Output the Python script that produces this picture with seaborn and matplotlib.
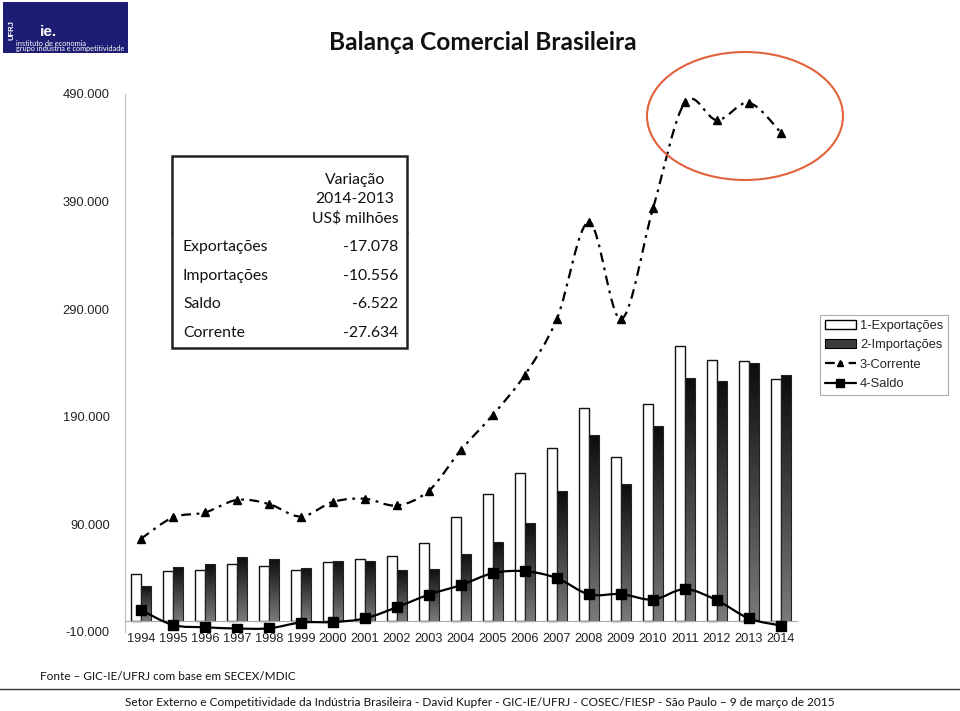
import numpy as np
import pandas as pd
import matplotlib.pyplot as plt
import seaborn as sns
from matplotlib.path import Path
from matplotlib.patches import PathPatch, Rectangle, Ellipse, Patch
from matplotlib.lines import Line2D

# Dados (US$ milhões)
anos = [str(a) for a in range(1994, 2015)]
exportacoes = [43545, 46506, 47747, 52994, 51140, 48011, 55086, 58223, 60362, 73084, 96475,
               118308, 137807, 160649, 197942, 152995, 201915, 256040, 242578, 242179, 225101]
importacoes = [33079, 49972, 53346, 59747, 57763, 49302, 55851, 55602, 47243, 48326, 62836,
               73600, 91351, 120617, 172985, 127722, 181768, 226247, 223183, 239631, 229075]
corrente = [76624, 96478, 101093, 112741, 108903, 97313, 110937, 113825, 107605, 121410, 159311,
            191908, 229158, 281266, 370927, 280717, 383683, 482287, 465761, 481810, 454176]
saldo = [10466, -3466, -5599, -6753, -6575, -1199, -731, 2650, 13121, 24794, 33641,
         44703, 46457, 40032, 24958, 25272, 20147, 29793, 19395, 2548, -3974]

tabela_rotulos = ['Exportações', 'Importações', 'Saldo', 'Corrente']
tabela_valores = ['-17.078', '-10.556', '-6.522', '-27.634']

df = pd.DataFrame({'ano': anos * 2,
                   'valor': exportacoes + importacoes,
                   'serie': ['1-Exportações'] * len(anos) + ['2-Importações'] * len(anos)})

plt.rcParams['lines.scale_dashes'] = False
sns.set_style('white')
plt.rcParams['font.family'] = ['Liberation Sans', 'DejaVu Sans']

fig = plt.figure(figsize=(9.6, 7.11), dpi=100)
ax = fig.add_axes([125 / 960, 1 - 632 / 711, 672 / 960, 538 / 711])

sns.barplot(data=df, x='ano', y='valor', hue='serie', width=0.62, gap=0,
            palette=['white', '#555555'], legend=False, ax=ax, saturation=1)

# barras de exportações: brancas com contorno preto
for bar in ax.containers[0]:
    bar.set_facecolor('white')
    bar.set_edgecolor('#111111')
    bar.set_linewidth(1)

# barras de importações: degradê preto -> cinza
grad = np.linspace(0, 1, 100).reshape(-1, 1)
cmap = plt.matplotlib.colors.LinearSegmentedColormap.from_list('g', ['#0d0d0d', '#7a7a7a'])
for bar in ax.containers[1]:
    bar.set_facecolor('none')
    bar.set_edgecolor('#222222')
    bar.set_linewidth(0.8)
    x0, w, h = bar.get_x(), bar.get_width(), bar.get_height()
    im = ax.imshow(grad, extent=[x0, x0 + w, 0, h], origin='upper', aspect='auto',
                   cmap=cmap, zorder=1.5)
    im.set_clip_path(bar)
    bar.set_zorder(2)


def curva_suave(xs, ys):
    verts = [(xs[0], ys[0])]
    codes = [Path.MOVETO]
    n = len(xs)
    for i in range(n - 1):
        p0 = (xs[i - 1], ys[i - 1]) if i > 0 else (xs[i], ys[i])
        p3 = (xs[i + 2], ys[i + 2]) if i + 2 < n else (xs[i + 1], ys[i + 1])
        c1 = (xs[i] + (xs[i + 1] - p0[0]) / 6, ys[i] + (ys[i + 1] - p0[1]) / 6)
        c2 = (xs[i + 1] - (p3[0] - xs[i]) / 6, ys[i + 1] - (p3[1] - ys[i]) / 6)
        verts += [c1, c2, (xs[i + 1], ys[i + 1])]
        codes += [Path.CURVE4] * 3
    return Path(verts, codes)


xs = np.arange(len(anos))
ax.add_patch(PathPatch(curva_suave(xs, corrente), facecolor='none', edgecolor='black',
                       lw=1.6, linestyle=(0, (7, 4, 2, 4)), zorder=4))
ax.plot(xs, corrente, linestyle='none', marker='^', color='black', markersize=5.5, zorder=5)
ax.add_patch(PathPatch(curva_suave(xs, saldo), facecolor='none', edgecolor='black',
                       lw=1.6, zorder=4))
ax.plot(xs, saldo, linestyle='none', marker='s', color='black', markersize=6.5, zorder=5)

ax.set_xlim(-0.5, len(anos) - 0.5)
ax.set_ylim(-10000, 490000)
ax.set_yticks(range(-10000, 490001, 100000))
ax.set_yticklabels([f'{v:,.0f}'.replace(',', '.') for v in range(-10000, 490001, 100000)])
ax.set_xlabel('')
ax.set_ylabel('')
for s in ['top', 'right']:
    ax.spines[s].set_visible(False)
ax.spines['left'].set_color('#bbbbbb')
ax.spines['bottom'].set_color('#aaaaaa')
ax.spines['bottom'].set_position(('data', 0))
ax.set_xticks(np.arange(-0.5, len(anos)), minor=True)
ax.tick_params(axis='x', which='major', length=0, pad=8.5, labelsize=9.2, labelcolor='#222222')
ax.tick_params(axis='x', which='minor', length=4, color='#aaaaaa', direction='out')
ax.tick_params(axis='y', length=3, color='#bbbbbb', labelsize=9.3, labelcolor='#222222', pad=8)

# legenda
handles = [Patch(facecolor='white', edgecolor='black', lw=1),
           Patch(facecolor='#3c3c3c', edgecolor='black', lw=0.8),
           Line2D([], [], color='black', lw=1.6, linestyle=(0, (7, 4, 2, 4)), marker='^', markersize=5),
           Line2D([], [], color='black', lw=1.6, marker='s', markersize=6)]
leg = fig.legend(handles, ['1-Exportações', '2-Importações', '3-Corrente', '4-Saldo'],
                 loc='upper left', bbox_to_anchor=(820 / 960, 1 - 315 / 711), fontsize=9.3,
                 frameon=True, fancybox=False, handlelength=2.4, handletextpad=0.35,
                 labelspacing=0.58, borderpad=0.35, borderaxespad=0)
leg.get_frame().set_edgecolor('#999999')
leg.get_frame().set_linewidth(0.8)

# destaque em vermelho
fig.patches.append(Ellipse((745 / 960, 1 - 116 / 711), 196 / 960, 128 / 711, transform=fig.transFigure,
                           facecolor='none', edgecolor='#e2623b', lw=1.5))

# tabela
tx = fig.transFigure
def fx(p): return p / 960
def fy(p): return 1 - p / 711
fig.patches.append(Rectangle((fx(172), fy(348)), fx(235), 192 / 711, transform=tx,
                             facecolor='white', edgecolor='#222222', lw=1.8, zorder=3))
fig.add_artist(Line2D([fx(298), fx(298)], [fy(157), fy(232)], transform=tx, color='#222222', lw=1.8))
fig.add_artist(Line2D([fx(172), fx(407)], [fy(232), fy(232)], transform=tx, color='#222222', lw=1.8))
cab = dict(family=['Lato', 'DejaVu Sans'], fontsize=11.3, color='#111111', ha='center', va='center')
fig.text(fx(355), fy(180), 'Variação', **cab)
fig.text(fx(355), fy(199), '2014-2013', **cab)
fig.text(fx(355), fy(218), 'US$ milhões', **cab)
for i, (r, v) in enumerate(zip(tabela_rotulos, tabela_valores)):
    y = fy(247 + i * 28.7)
    fig.text(fx(183), y, r, family=['Lato', 'DejaVu Sans'], fontsize=11.3, color='#111111', va='center')
    fig.text(fx(398), y, v, family=['Lato', 'DejaVu Sans'], fontsize=11.3, color='#111111', va='center', ha='right')

# título
fig.text(fx(483), fy(42), 'Balança Comercial Brasileira', family=['Lato', 'DejaVu Sans'],
         fontsize=17.6, fontweight='bold', ha='center', va='center', color='#111111')

# logotipo
fig.patches.append(Rectangle((fx(3), fy(53)), fx(125), 51 / 711, transform=tx, facecolor='#1d1d73',
                             edgecolor='none'))
fig.text(fx(12), fy(30), 'UFRJ', rotation=90, color='white', fontsize=5.5, fontweight='bold',
         ha='center', va='center')
fig.text(fx(40), fy(32), 'ie.', color='white', fontsize=11, fontweight='bold', ha='left', va='center')
fig.text(fx(16), fy(43), 'instituto de economia', color='white', fontsize=5.3, ha='left', va='center',
         family=['Lato', 'DejaVu Sans'])
fig.text(fx(16), fy(49), 'grupo indústria e competitividade', color='white', fontsize=5.3, ha='left',
         va='center', family=['Lato', 'DejaVu Sans'])

# rodapé
fig.text(fx(40), fy(677), 'Fonte – GIC-IE/UFRJ com base em SECEX/MDIC', family=['Lato', 'DejaVu Sans'],
         fontsize=8.5, va='center', color='#111111')
fig.add_artist(Line2D([0, 1], [fy(689), fy(689)], transform=tx, color='#333333', lw=1))
fig.text(fx(480), fy(703), 'Setor Externo e Competitividade da Indústria Brasileira - David Kupfer - GIC-IE/UFRJ'
         ' - COSEC/FIESP - São Paulo – 9 de março de 2015', family=['Lato', 'DejaVu Sans'],
         fontsize=8.6, ha='center', va='center', color='#111111')

fig.savefig('out.png', dpi=100)
